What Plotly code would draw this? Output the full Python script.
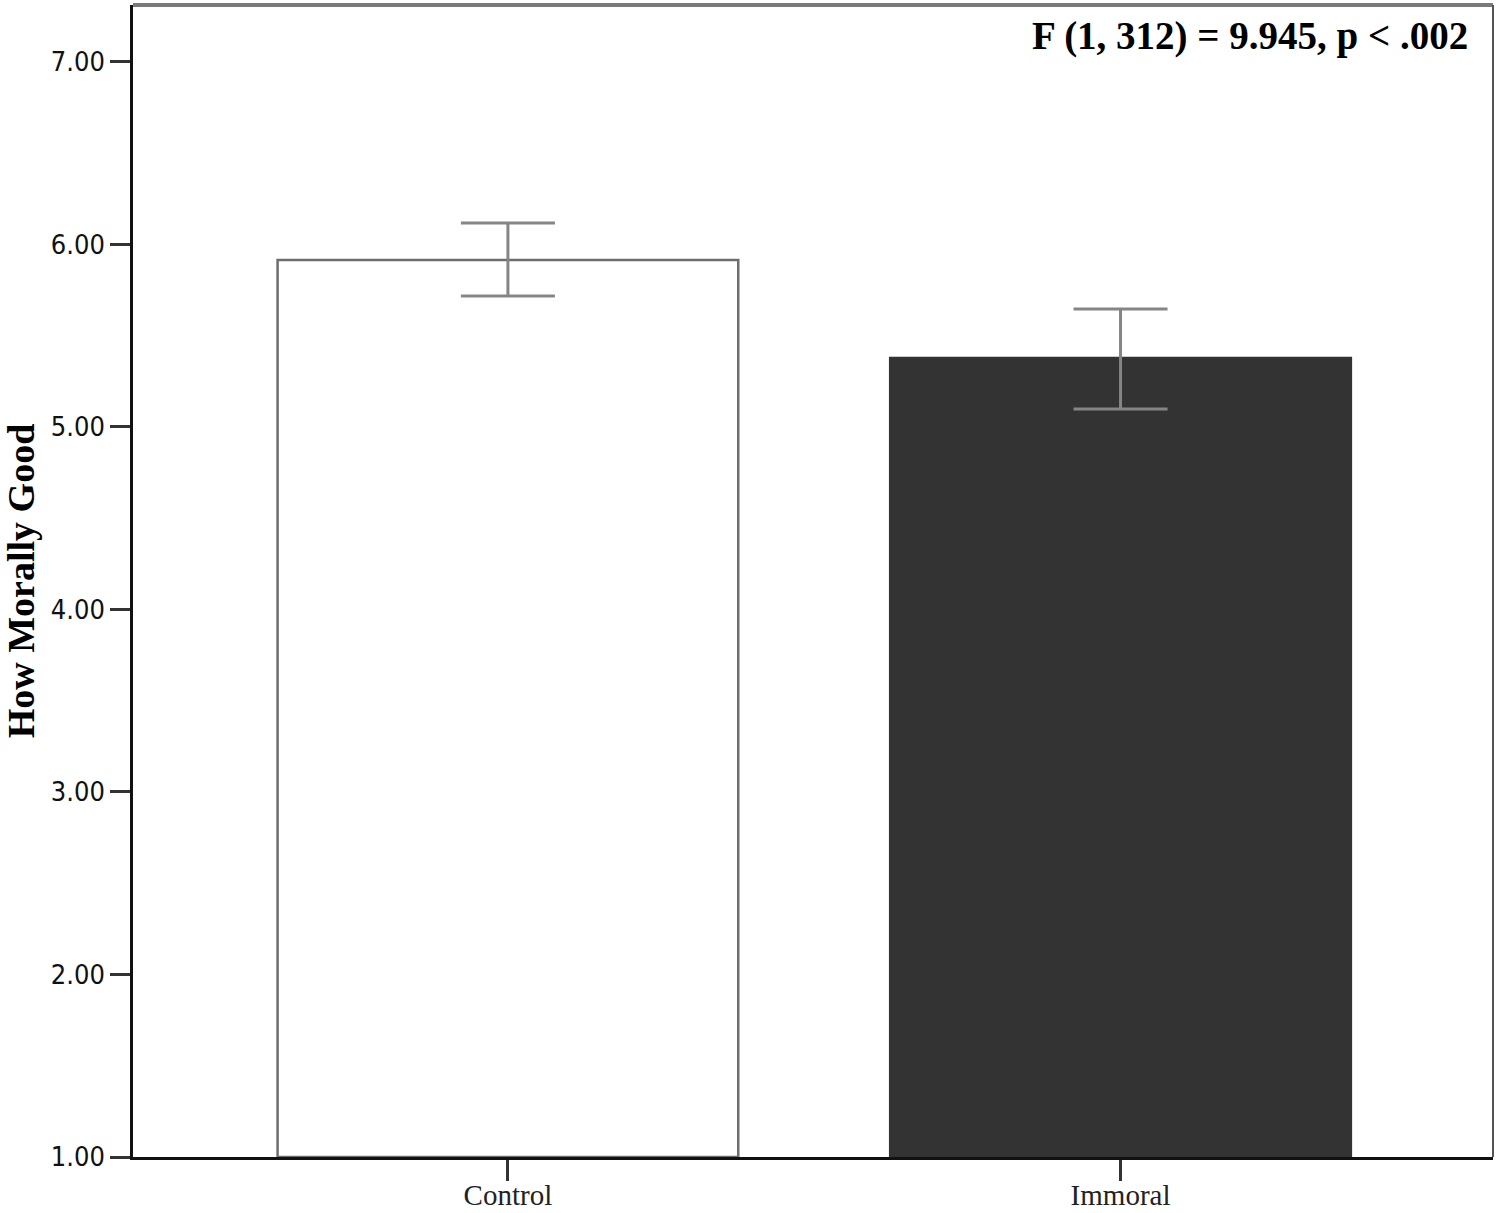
import plotly.graph_objects as go

# group means with error-bar bounds
groups = ["Control", "Immoral"]
means = [5.915, 5.378]
err_upper = [6.118, 5.647]
err_lower = [5.718, 5.099]
bar_colors = ["#ffffff", "#333333"]
bar_lines = ["#6e6e6e", "#333333"]
y_ticks = [1, 2, 3, 4, 5, 6, 7]
stat_text = "F (1, 312) = 9.945, p < .002"

err_plus = [u - m for u, m in zip(err_upper, means)]
err_minus = [m - l for m, l in zip(means, err_lower)]

serif = "Liberation Serif, Times New Roman, serif"

fig = go.Figure()
fig.add_trace(go.Bar(
    x=groups, y=[m - 1 for m in means], base=1,
    width=0.752,
    marker=dict(color=bar_colors, line=dict(color=bar_lines, width=2.5)),
    error_y=dict(type="data", array=err_plus, arrayminus=err_minus,
                 color="#858585", thickness=3, width=47),
    showlegend=False,
))

fig.update_layout(
    width=1500, height=1213,
    margin=dict(l=133, r=7, t=5, b=56),
    plot_bgcolor="white", paper_bgcolor="white",
    font=dict(family="Liberation Sans Narrow, DejaVu Sans Condensed, sans-serif", color="#111111"),
    xaxis=dict(
        range=[-0.612, 1.608], showline=True, linecolor="#111111", linewidth=2.5,
        ticks="outside", ticklen=21, tickwidth=3, tickcolor="#333333",
        tickfont=dict(family=serif, size=29, color="#222222"),
        ticklabelstandoff=-11,
        showgrid=False, zeroline=False, automargin=False,
    ),
    yaxis=dict(
        range=[1, 7.312], showline=True, linecolor="#111111", linewidth=2.5,
        tickvals=y_ticks, tickformat=".2f",
        ticks="outside", ticklen=20, tickwidth=3, tickcolor="#333333",
        tickfont=dict(size=27, color="#111111"),
        showgrid=False, zeroline=False, automargin=False,
        title=dict(text="How Morally Good", standoff=16,
                   font=dict(family=serif, size=38, color="#000000", weight="bold")),
    ),
    annotations=[dict(
        text=stat_text, xref="paper", yref="paper", x=0.983, y=0.973,
        xanchor="right", yanchor="middle", showarrow=False,
        font=dict(family=serif, size=39, color="#000000", weight="bold"),
    )],
    shapes=[
        dict(type="line", xref="paper", yref="paper", x0=0, x1=1, y0=1, y1=1,
             line=dict(color="#7a7a7a", width=4)),
        dict(type="line", xref="paper", yref="paper", x0=1, x1=1, y0=0, y1=1,
             line=dict(color="#555555", width=2)),
    ],
)

fig.write_html(
    "out.html",
    config={"displayModeBar": False},
    post_script="document.body.style.margin='0';document.body.style.overflow='hidden';",
)
